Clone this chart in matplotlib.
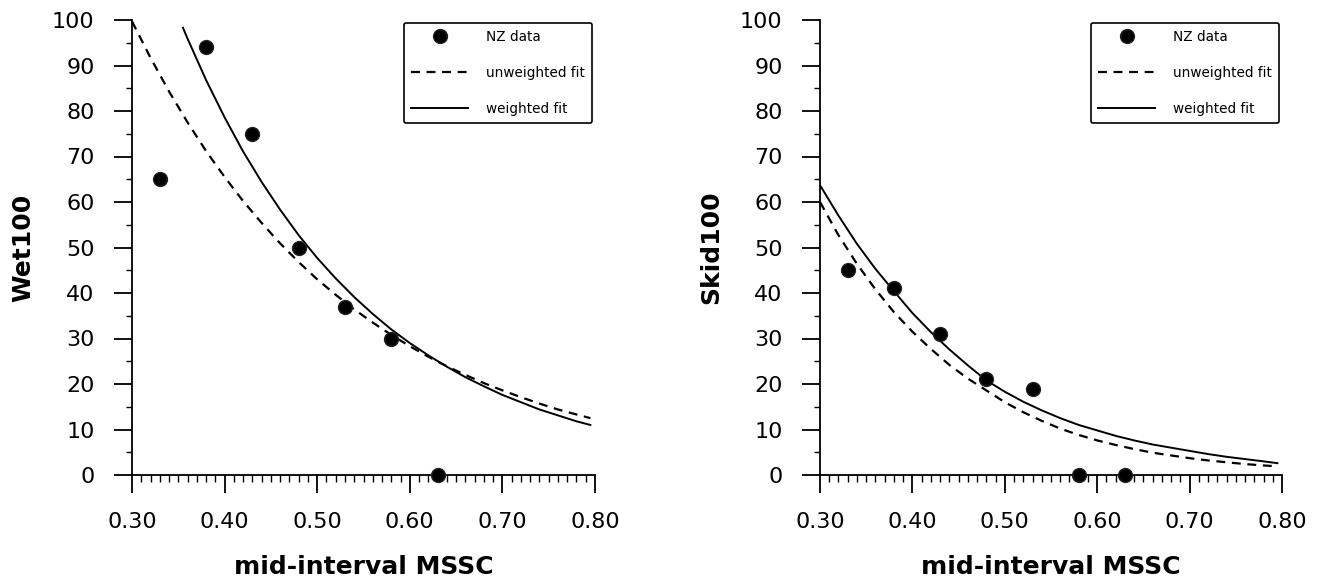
import matplotlib
matplotlib.use("Agg")
import matplotlib.pyplot as plt
from matplotlib.ticker import MultipleLocator, FormatStrFormatter

# NZ data (mid-interval MSSC vs counts per 100)
mssc = [0.33, 0.38, 0.43, 0.48, 0.53, 0.58, 0.63]
wet100 = [65, 94, 75, 50, 37, 30, 0]
skid100 = [45, 41, 31, 21, 19, 0, 0]

# fitted curves
fit_x = [0.30, 0.32, 0.34, 0.36, 0.38, 0.40, 0.42, 0.44, 0.46, 0.48, 0.50,
         0.52, 0.54, 0.56, 0.58, 0.60, 0.62, 0.64, 0.66, 0.68, 0.70, 0.72,
         0.74, 0.76, 0.78, 0.795]
wet_unweighted = [99.7, 91.7, 84.3, 77.5, 71.2, 65.5, 60.2, 55.4, 50.9, 46.8,
                  43.0, 39.6, 36.4, 33.5, 30.8, 28.3, 26.0, 23.9, 22.0, 20.2,
                  18.6, 17.1, 15.7, 14.4, 13.3, 12.5]
wet_weighted_x = [0.355, 0.36, 0.38, 0.40, 0.42, 0.44, 0.46, 0.48, 0.50, 0.52,
                  0.54, 0.56, 0.58, 0.60, 0.62, 0.64, 0.66, 0.68, 0.70, 0.72,
                  0.74, 0.76, 0.78, 0.795]
wet_weighted = [98.3, 95.9, 86.8, 78.6, 71.1, 64.4, 58.3, 52.7, 47.7, 43.2,
                39.1, 35.4, 32.0, 29.0, 26.3, 23.8, 21.5, 19.5, 17.6, 16.0,
                14.4, 13.1, 11.8, 11.0]
skid_unweighted = [60.0, 52.7, 46.4, 40.8, 35.8, 31.5, 27.7, 24.2, 21.2, 18.6,
                   16.0, 13.8, 11.9, 10.2, 8.8, 7.6, 6.6, 5.7, 4.9, 4.3,
                   3.7, 3.2, 2.8, 2.4, 2.1, 1.9]
skid_weighted = [63.7, 57.0, 50.8, 45.3, 40.4, 35.6, 31.4, 27.6, 24.1, 20.8,
                 18.3, 16.1, 14.2, 12.5, 11.0, 9.8, 8.6, 7.6, 6.7, 6.0,
                 5.3, 4.6, 4.0, 3.5, 3.0, 2.6]

fig = plt.figure(figsize=(13.28, 5.82), dpi=100)
ax1 = fig.add_axes([132 / 1328, 107 / 582, 463 / 1328, 455 / 582])
ax2 = fig.add_axes([820 / 1328, 107 / 582, 462 / 1328, 455 / 582])


def style_axes(ax, ylabel):
    ax.set_xlim(0.30, 0.80)
    ax.set_ylim(0, 100)
    ax.spines["top"].set_visible(False)
    ax.spines["right"].set_visible(False)
    for s in ("left", "bottom"):
        ax.spines[s].set_linewidth(1.3)
    ax.xaxis.set_major_locator(MultipleLocator(0.1))
    ax.xaxis.set_minor_locator(MultipleLocator(0.01))
    ax.xaxis.set_major_formatter(FormatStrFormatter("%.2f"))
    ax.yaxis.set_major_locator(MultipleLocator(10))
    ax.yaxis.set_minor_locator(MultipleLocator(5))
    ax.tick_params(axis="x", which="major", direction="out", length=13,
                   width=1.3, pad=14, labelsize=16)
    ax.tick_params(axis="x", which="minor", direction="out", length=5,
                   width=1.0)
    ax.tick_params(axis="y", which="major", direction="out", length=13,
                   width=1.3, pad=14, labelsize=16)
    ax.tick_params(axis="y", which="minor", direction="out", length=4,
                   width=1.0)
    ax.set_xlabel("mid-interval MSSC", fontsize=18, fontweight="bold",
                  labelpad=16)
    ax.set_ylabel(ylabel, fontsize=18, fontweight="bold", labelpad=12)


def draw_panel(ax, y_data, unw_x, unw_y, w_x, w_y, ylabel):
    ax.plot(mssc, y_data, "o", color="black", markersize=10,
            markeredgecolor="#222222", label="NZ data", clip_on=False,
            zorder=5)
    ax.plot(unw_x, unw_y, color="black", linewidth=1.6,
            linestyle=(0, (4, 3)), label="unweighted fit")
    ax.plot(w_x, w_y, color="black", linewidth=1.4, label="weighted fit")
    style_axes(ax, ylabel)
    leg = ax.legend(loc="upper right", bbox_to_anchor=(1.0, 1.0),
                    fontsize=9.8, frameon=True, fancybox=True,
                    edgecolor="black", handlelength=4.2, handletextpad=1.3,
                    labelspacing=1.6, borderpad=0.55, borderaxespad=0.2,
                    markerscale=1.0)
    leg.get_frame().set_linewidth(1.2)
    leg.get_frame().set_alpha(1.0)


draw_panel(ax1, wet100, fit_x, wet_unweighted, wet_weighted_x, wet_weighted,
           "Wet100")
draw_panel(ax2, skid100, fit_x, skid_unweighted, fit_x, skid_weighted,
           "Skid100")

fig.savefig("out.png", dpi=100)
